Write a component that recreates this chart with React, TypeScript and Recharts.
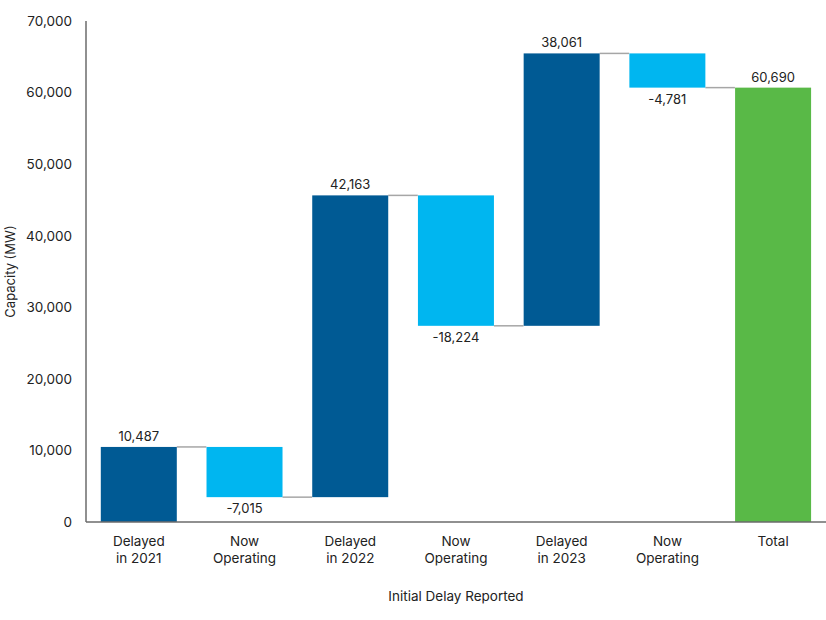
import React from "react";
import { BarChart, Bar, XAxis, YAxis, Cell, LabelList, Label } from "recharts";

// waterfall steps
const categories = [
  "Delayed\nin 2021",
  "Now\nOperating",
  "Delayed\nin 2022",
  "Now\nOperating",
  "Delayed\nin 2023",
  "Now\nOperating",
  "Total",
];
const changes = [10487, -7015, 42163, -18224, 38061, -4781, 60690];
const kinds = ["delay", "operating", "delay", "operating", "delay", "operating", "total"];
const yTicks = [0, 10000, 20000, 30000, 40000, 50000, 60000, 70000];

const colors: Record<string, string> = {
  delay: "#005a94",
  operating: "#00b6f0",
  total: "#59b947",
};

const FONT = "Inter, 'Open Sans', sans-serif";
const GAP = 0.14; // barCategoryGap as a fraction

// build the stacked base/visible table
let running = 0;
const chartData = categories.map((name, i) => {
  const kind = kinds[i];
  const change = changes[i];
  let base: number;
  let end: number;
  if (kind === "total") {
    base = 0;
    end = change;
  } else {
    base = change >= 0 ? running : running + change;
    end = running + change;
  }
  running = end;
  return { name, kind, change, base, value: Math.abs(change), up: change >= 0, last: i === categories.length - 1 };
});

const fmt = (v: number) => v.toLocaleString("en-US");

const StepShape = (props: any) => {
  const { x, y, width, height, payload } = props;
  const gapPx = (width * 2 * GAP) / (1 - 2 * GAP);
  const ly = payload.up ? y : y + height;
  return (
    <g>
      {!payload.last && (
        <line x1={x + width} x2={x + width + gapPx} y1={ly} y2={ly} stroke="#a6a6a6" strokeWidth={1.5} />
      )}
      <rect x={x} y={y} width={width} height={height} fill={colors[payload.kind]} />
    </g>
  );
};

const ValueLabel = (props: any) => {
  const { x, y, width, height, index } = props;
  const d = chartData[index];
  const ty = d.up ? y - 11 : y + height + 11;
  return (
    <text
      x={x + width / 2}
      y={ty}
      textAnchor="middle"
      dominantBaseline="central"
      fontFamily={FONT}
      fontSize={13}
      fill="#222"
    >
      {fmt(d.change)}
    </text>
  );
};

const CategoryTick = (props: any) => {
  const { x, y, payload } = props;
  const lines = String(payload.value).split("\n");
  return (
    <text x={x} y={y} textAnchor="middle" fontFamily={FONT} fontSize={13.5} fill="#222">
      {lines.map((l, i) => (
        <tspan key={i} x={x} dy={i === 0 ? 16 : 17}>
          {l}
        </tspan>
      ))}
    </text>
  );
};

const YTitle = (props: any) => {
  const { viewBox } = props;
  const cy = viewBox.y + viewBox.height / 2;
  return (
    <text
      x={10}
      y={cy}
      transform={`rotate(-90 10 ${cy})`}
      textAnchor="middle"
      dominantBaseline="central"
      fontFamily={FONT}
      fontSize={13}
      fill="#222"
    >
      Capacity (MW)
    </text>
  );
};

export default function App() {
  return (
    <div style={{ position: "absolute", left: 0, top: 0, background: "#fff" }}>
      <BarChart
        width={826}
        height={620}
        data={chartData}
        margin={{ top: 21, right: 0, left: 0, bottom: 0 }}
        barCategoryGap={`${GAP * 100}%`}
      >
        <XAxis
          dataKey="name"
          height={98}
          axisLine={{ stroke: "#6b6b6b", strokeWidth: 1.5 }}
          tickLine={false}
          tick={<CategoryTick />}
          interval={0}
        >
          <Label
            value="Initial Delay Reported"
            position="insideBottom"
            offset={19}
            style={{ fontFamily: FONT, fontSize: 13.5, fill: "#222" }}
          />
        </XAxis>
        <YAxis
          width={86}
          domain={[0, 70000]}
          ticks={yTicks}
          tickFormatter={fmt}
          axisLine={{ stroke: "#6b6b6b", strokeWidth: 1.5 }}
          tickLine={false}
          tickMargin={8}
          tick={{ fontFamily: FONT, fontSize: 13.5, fill: "#222" }}
        >
          <Label content={<YTitle />} />
        </YAxis>
        <Bar dataKey="base" stackId="w" fill="transparent" isAnimationActive={false} />
        <Bar dataKey="value" stackId="w" shape={<StepShape />} isAnimationActive={false}>
          {chartData.map((d, i) => (
            <Cell key={i} fill={colors[d.kind]} />
          ))}
          <LabelList dataKey="value" content={<ValueLabel />} />
        </Bar>
      </BarChart>
    </div>
  );
}
